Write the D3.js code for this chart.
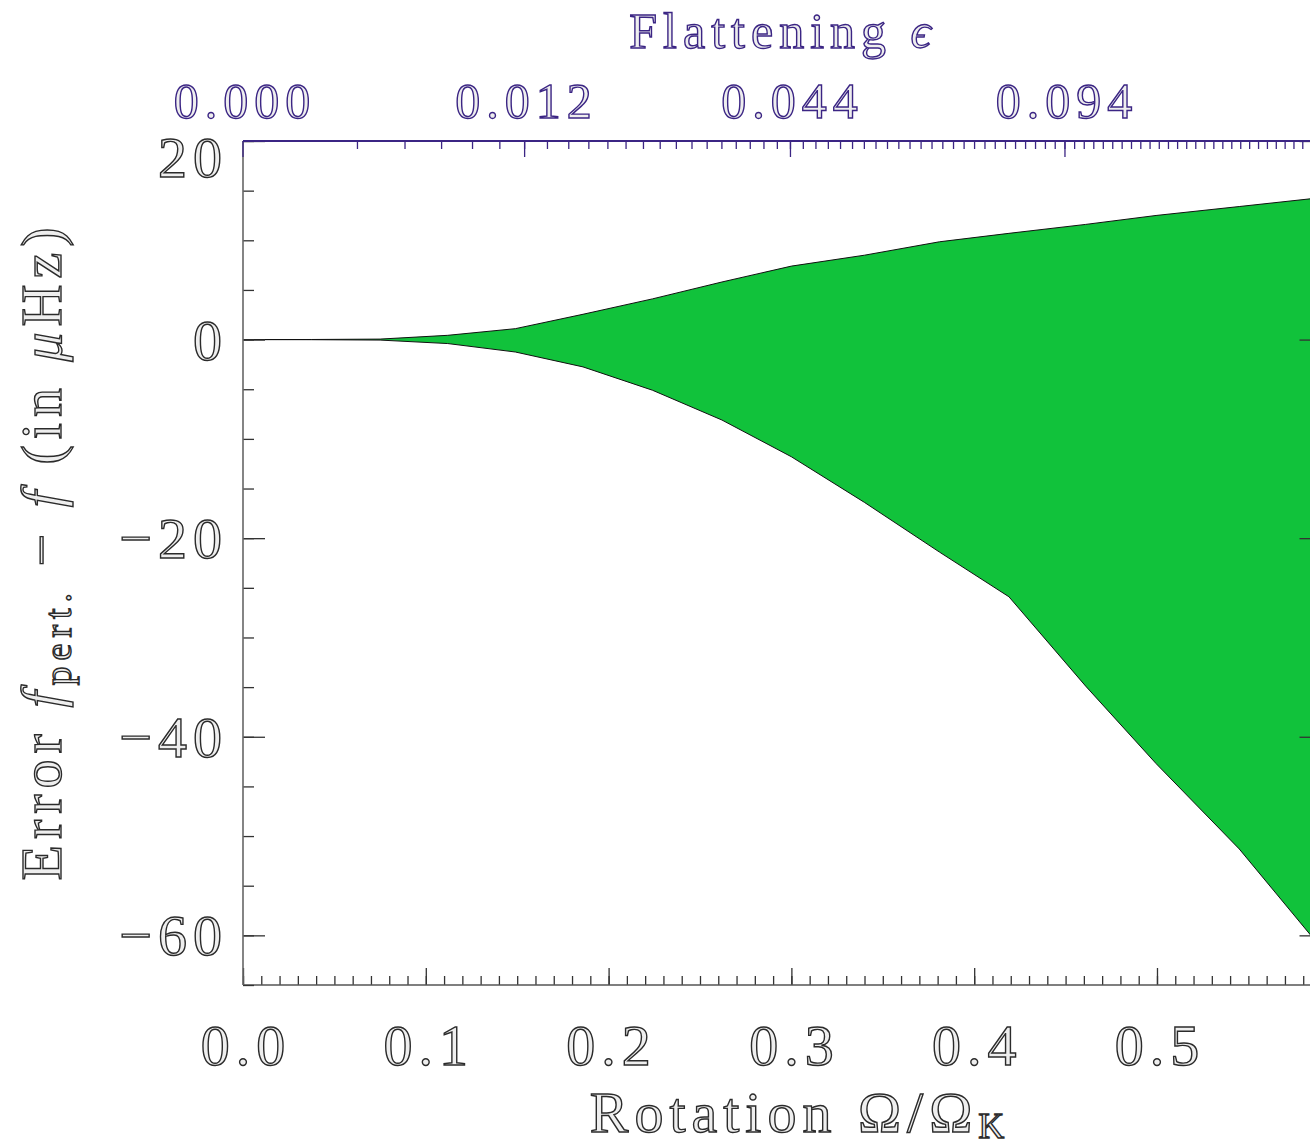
<!DOCTYPE html>
<html>
<head>
<meta charset="utf-8">
<script src="https://cdn.jsdelivr.net/npm/d3@7"></script>
<style>
body { margin: 0; background: #fff; }
svg { display: block; }
text { font-family: "Liberation Serif", "DejaVu Serif", serif; }
</style>
</head>
<body>
<script>
// rotation rate (Omega / Omega_K) and the error band
var omega    = [0, 0.0375, 0.075, 0.112, 0.149, 0.186, 0.224, 0.262, 0.300, 0.340, 0.381, 0.419, 0.461, 0.4995, 0.545, 0.59];
var upperErr = [0, 0.01, 0.05, 0.43, 1.1, 2.55, 4.1, 5.8, 7.4, 8.5, 9.85, 10.7, 11.6, 12.5, 13.4, 14.3];
var lowerErr = [0, -0.01, -0.05, -0.4, -1.25, -2.75, -5.1, -8.1, -11.8, -16.4, -21.4, -25.9, -34.9, -42.7, -51.3, -61.3];

var xTickValues = [0, 0.1, 0.2, 0.3, 0.4, 0.5];
var xTickLabels = ["0.0", "0.1", "0.2", "0.3", "0.4", "0.5"];
var yTickValues = [20, 0, -20, -40, -60];
var yTickLabels = ["20", "0", "\u221220", "\u221240", "\u221260"];
var epsTickValues = [0, 0.012, 0.044, 0.094];
var epsTickLabels = ["0.000", "0.012", "0.044", "0.094"];

var width = 1310;
var height = 1148;
var plotLeft = 243, plotTop = 141, plotRight = 1321.5, plotBottom = 985;
var ink = "#2b2b2b";
var purple = "#3b2584";
var green = "#11c23b";

var svg = d3.select("body").append("svg")
            .attr("width", width)
            .attr("height", height);

var x = d3.scaleLinear().domain([0, 0.59]).range([plotLeft, plotRight]);
var y = d3.scaleLinear().domain([-65, 20]).range([plotBottom, plotTop]);

// flattening vs rotation, fitted to the top axis of the figure
var fitA = 0.511, fitB = 0.228;
var omegaOfEps = function(e) {
    var u = (fitA - Math.sqrt(fitA * fitA - 4 * fitB * e)) / (2 * fitB);
    return Math.sqrt(u);
};

var data = omega.map(function(o, i) {
    return {o: o, hi: upperErr[i], lo: lowerErr[i]};
});

// error band
var area = d3.area()
    .x(function(d) { return x(d.o); })
    .y0(function(d) { return y(d.lo); })
    .y1(function(d) { return y(d.hi); });
svg.append("path")
   .datum(data)
   .attr("d", area)
   .attr("fill", green)
   .attr("stroke", "#111")
   .attr("stroke-width", 1);

var styleAxis = function(g, col) {
    g.select(".domain").remove();
    g.selectAll(".tick line").attr("stroke", col).attr("stroke-width", 1.3);
    g.selectAll(".tick text").remove();
};

// bottom axis (ticks point up into the plot)
var xMinor = d3.range(0, 60).map(function(i) { return i / 100; });
svg.append("g").attr("transform", "translate(0," + plotBottom + ")")
   .call(d3.axisTop(x).tickValues(xMinor).tickSize(9))
   .call(styleAxis, "#333");
svg.append("g").attr("transform", "translate(0," + plotBottom + ")")
   .call(d3.axisTop(x).tickValues(xTickValues).tickSize(17))
   .call(styleAxis, "#333");
svg.append("line")
   .attr("x1", plotLeft).attr("x2", plotRight)
   .attr("y1", plotBottom).attr("y2", plotBottom)
   .attr("stroke", "#555").attr("stroke-width", 1.6);

// left and right axes
var yMinor = d3.range(-65, 21, 5);
[[plotLeft, d3.axisRight], [plotRight, d3.axisLeft]].forEach(function(p) {
    svg.append("g").attr("transform", "translate(" + p[0] + ",0)")
       .call(p[1](y).tickValues(yMinor).tickSize(11))
       .call(styleAxis, "#333");
    svg.append("g").attr("transform", "translate(" + p[0] + ",0)")
       .call(p[1](y).tickValues(yTickValues).tickSize(22))
       .call(styleAxis, "#333");
    svg.append("line")
       .attr("x1", p[0]).attr("x2", p[0])
       .attr("y1", plotTop).attr("y2", plotBottom)
       .attr("stroke", "#666").attr("stroke-width", 1.6);
});

// top axis: flattening
var epsMinor = d3.range(1, 75).map(function(k) { return k * 0.002; });
svg.append("g").selectAll("line")
   .data(epsMinor)
   .enter()
   .append("line")
   .attr("x1", function(e) { return x(omegaOfEps(e)); })
   .attr("x2", function(e) { return x(omegaOfEps(e)); })
   .attr("y1", plotTop)
   .attr("y2", plotTop + 8)
   .attr("stroke", purple)
   .attr("stroke-width", 1.3);
svg.append("g").selectAll("line")
   .data(epsTickValues)
   .enter()
   .append("line")
   .attr("x1", function(e) { return x(omegaOfEps(e)); })
   .attr("x2", function(e) { return x(omegaOfEps(e)); })
   .attr("y1", plotTop)
   .attr("y2", plotTop + 16)
   .attr("stroke", purple)
   .attr("stroke-width", 1.3);
svg.append("line")
   .attr("x1", plotLeft).attr("x2", plotRight)
   .attr("y1", plotTop).attr("y2", plotTop)
   .attr("stroke", purple).attr("stroke-width", 1.8);

// outlined labels, like the figure's font
var label = function(sel, col, size) {
    sel.attr("font-size", size)
       .attr("fill", "#eeeeee")
       .attr("stroke", col)
       .attr("stroke-width", 1.4)
       .attr("letter-spacing", 6);
};

svg.append("g").selectAll("text")
   .data(xTickValues)
   .enter()
   .append("text")
   .attr("x", function(d) { return x(d) + 3; })
   .attr("y", 1065)
   .attr("text-anchor", "middle")
   .text(function(d, i) { return xTickLabels[i]; })
   .call(label, ink, 58);

svg.append("g").selectAll("text")
   .data(yTickValues)
   .enter()
   .append("text")
   .attr("x", 228)
   .attr("y", function(d) { return Math.max(y(d), plotTop + 16) + 20; })
   .attr("text-anchor", "end")
   .text(function(d, i) { return yTickLabels[i]; })
   .call(label, ink, 58);

svg.append("g").selectAll("text")
   .data(epsTickValues)
   .enter()
   .append("text")
   .attr("x", function(e) { return x(omegaOfEps(e)) + 2; })
   .attr("y", 118)
   .attr("text-anchor", "middle")
   .text(function(d, i) { return epsTickLabels[i]; })
   .call(label, purple, 50);

// axis titles
var topTitle = svg.append("text")
   .attr("x", 783).attr("y", 48)
   .attr("text-anchor", "middle")
   .call(label, purple, 50);
topTitle.append("tspan").text("Flattening ");
topTitle.append("tspan").attr("font-style", "italic").text("\u03f5");

var xTitle = svg.append("text")
   .attr("x", 800).attr("y", 1132)
   .attr("text-anchor", "middle")
   .call(label, ink, 58);
xTitle.append("tspan").text("Rotation \u03a9/\u03a9");
xTitle.append("tspan").attr("font-size", 36).attr("dy", 6).text("K");

var yTitle = svg.append("text")
   .attr("transform", "translate(61,551) rotate(-90)")
   .attr("text-anchor", "middle")
   .call(label, ink, 58);
yTitle.append("tspan").text("Error ");
yTitle.append("tspan").attr("font-style", "italic").text("f");
yTitle.append("tspan").attr("font-size", 38).attr("dy", 10).text("pert.");
yTitle.append("tspan").attr("dy", -10).text(" \u2212 ");
yTitle.append("tspan").attr("font-style", "italic").text("f");
yTitle.append("tspan").text(" (in ");
yTitle.append("tspan").attr("font-style", "italic").text("\u03bc");
yTitle.append("tspan").text("Hz)");
</script>
</body>
</html>
